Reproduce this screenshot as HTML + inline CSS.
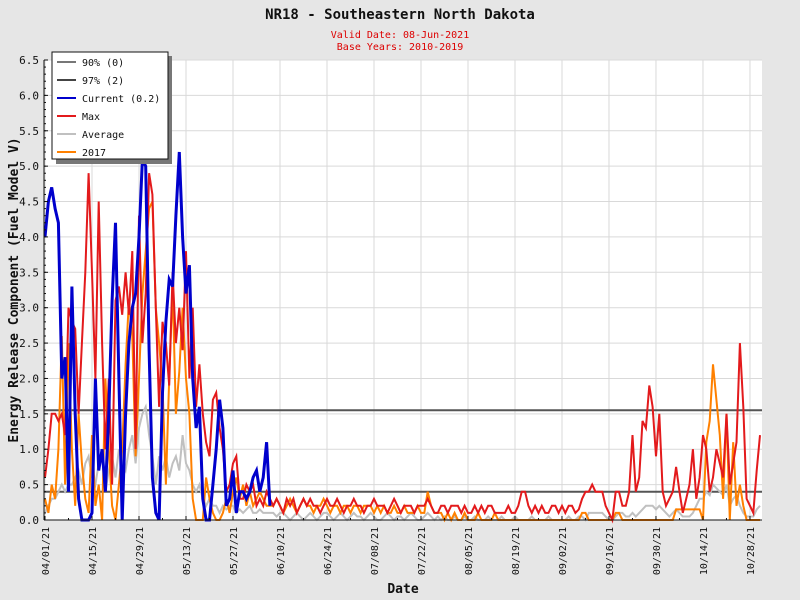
<!DOCTYPE html>
<html><head><meta charset="utf-8"><style>
body{margin:0;background:#e6e6e6;}
svg{display:block;font-family:"DejaVu Sans Mono","Liberation Mono",monospace;}
</style></head><body>
<svg id="chart" width="800" height="600" xmlns="http://www.w3.org/2000/svg">
<rect x="0" y="0" width="800" height="600" fill="#e6e6e6"/>
<text x="400" y="19" text-anchor="middle" font-size="14" font-weight="bold" fill="#111">NR18 - Southeastern North Dakota</text>
<text x="400" y="38" text-anchor="middle" font-size="10" fill="#d00">Valid Date: 08-Jun-2021</text>
<text x="400" y="50" text-anchor="middle" font-size="10" fill="#d00">Base Years: 2010-2019</text>
<rect x="44" y="60" width="718" height="460" fill="#fff"/>
<g id="grid"></g><g id="series"></g><g id="axes"></g>
<text transform="translate(18,290) rotate(-90)" text-anchor="middle" font-size="13" font-weight="bold" fill="#111">Energy Release Component (Fuel Model V)</text>
<text x="403" y="593" text-anchor="middle" font-size="13" font-weight="bold" fill="#111">Date</text>
<g id="legend"></g>
</svg>
<script>
const tickLabels=["04/01/21","04/15/21","04/29/21","05/13/21","05/27/21","06/10/21","06/24/21","07/08/21","07/22/21","08/05/21","08/19/21","09/02/21","09/16/21","09/30/21","10/14/21","10/28/21"];
const yTicks=[0,0.5,1,1.5,2,2.5,3,3.5,4,4.5,5,5.5,6,6.5];
const p90=[0.4];
const p97=[1.55];
const current=[4.0,4.5,4.7,4.4,4.2,2.0,2.3,0.4,3.3,1.5,0.3,0,0,0,0.1,2.0,0.7,1.0,0.4,1.5,3.1,4.2,2.0,0,1.5,2.5,3.0,3.2,4.0,5.1,5.0,2.4,0.6,0.1,0,1.8,2.8,3.4,3.3,4.3,5.2,4.0,3.2,3.6,2.0,1.3,1.6,0.3,0,0,0.5,1.0,1.7,1.3,0.2,0.3,0.7,0.1,0.4,0.4,0.3,0.4,0.6,0.7,0.4,0.6,1.1,0.2];
const maxv=[0.6,1.0,1.5,1.5,1.4,1.5,1.2,3.0,2.8,2.7,1.5,2.5,3.5,4.9,3.5,2.0,4.5,2.5,1.0,2.0,0.5,3.1,3.3,2.9,3.5,2.9,3.8,1.0,4.3,2.5,3.2,4.9,4.6,3.0,1.6,2.8,2.5,1.9,3.5,2.5,3.0,2.4,3.8,2.0,3.0,1.6,2.2,1.5,1.1,0.9,1.7,1.8,1.3,1.0,0.4,0.5,0.8,0.9,0.3,0.3,0.5,0.4,0.5,0.2,0.3,0.2,0.4,0.3,
0.2,0.3,0.2,0.1,0.3,0.2,0.3,0.1,0.2,0.3,0.2,0.3,0.2,0.2,0.1,0.2,0.3,0.2,0.2,0.3,0.2,0.1,0.2,0.2,0.3,0.2,0.2,0.1,0.2,0.2,0.3,0.2,0.2,0.2,0.1,0.2,0.3,0.2,0.1,0.2,0.2,0.2,0.1,0.2,0.2,0.2,0.3,0.2,0.1,0.1,0.2,0.2,0.1,0.2,0.2,0.2,0.1,0.2,0.1,0.1,0.2,0.1,0.2,0.1,0.2,0.2,0.1,0.1,0.1,0.1,0.2,0.1,0.1,0.2,0.4,0.4,0.2,0.1,0.2,0.1,0.2,0.1,0.1,0.2,0.2,0.1,0.2,0.1,0.2,0.2,0.1,
0.15,0.3,0.4,0.4,0.5,0.4,0.4,0.4,0.2,0.1,0,0.4,0.4,0.2,0.2,0.4,1.2,0.4,0.6,1.4,1.3,1.9,1.6,0.9,1.5,0.4,0.2,0.3,0.4,0.75,0.4,0.1,0.3,0.5,1.0,0.3,0.6,1.2,1.0,0.4,0.6,1.0,0.8,0.6,1.5,0.5,0.8,1.1,2.5,1.6,0.3,0.2,0.1,0.7,1.2];
const avg=[0.1,0.2,0.3,0.3,0.4,0.5,0.4,0.5,0.5,0.6,0.7,0.5,0.8,0.9,0.6,0.5,0.8,0.9,0.4,0.7,0.9,0.6,1.0,0.8,0.7,1.0,1.2,0.8,1.3,1.5,1.6,1.2,0.9,0.5,0.9,0.7,0.9,0.6,0.8,0.9,0.7,1.2,0.8,0.7,0.5,0.4,0.5,0.3,0.2,0.3,0.2,0.2,0.1,0.2,0.15,0.2,0.2,0.1,0.15,0.1,0.15,0.2,0.1,0.1,0.15,0.1,0.1,0.1,
0.1,0.05,0.1,0.1,0.05,0.0,0.05,0.1,0.05,0.0,0.05,0.1,0.05,0.0,0.05,0.1,0.1,0.05,0.0,0.05,0.1,0.05,0.0,0.05,0.1,0.05,0.05,0.0,0.05,0.1,0.05,0.0,0.0,0.05,0.1,0.05,0.0,0.05,0.05,0.0,0.05,0.1,0.05,0.0,0.0,0.05,0.1,0.05,0.0,0.05,0.0,0.05,0.0,0.0,0.05,0.0,0.0,0.05,0.0,0.0,0.05,0.0,0.0,0.0,0.05,0.0,0.0,0.0,0.05,0.0,0.0,0.0,0.05,0.0,0.0,0.0,0.0,0.05,0.0,0.0,0.0,0.0,0.05,0.0,0.0,0.0,0.0,0.0,0.05,0.0,0.0,
0.05,0.05,0.0,0.1,0.1,0.1,0.1,0.1,0.05,0.0,0.0,0.05,0.1,0.1,0.05,0.05,0.1,0.05,0.1,0.15,0.2,0.2,0.2,0.15,0.2,0.15,0.1,0.05,0.1,0.15,0.1,0.05,0.05,0.05,0.1,0.2,0.3,0.3,0.4,0.35,0.5,0.45,0.4,0.35,0.5,0.2,0.3,0.35,0.2,0.1,0.05,0.05,0.05,0.15,0.2];
const y2017=[0.3,0.1,0.5,0.3,1.0,2.6,0.5,2.5,1.0,0.2,1.5,0.8,0.3,0.1,1.2,0.2,0.5,0.0,2.0,1.0,0.2,0.0,0.5,1.0,2.2,3.1,2.6,0.9,2.0,3.2,3.8,4.4,4.5,3.0,2.5,1.9,0.5,2.0,3.3,1.5,2.1,3.0,2.0,1.5,0.3,0.0,0.0,0.0,0.6,0.3,0.1,0.0,0.0,0.1,0.3,0.1,0.4,0.6,0.3,0.5,0.2,0.4,0.2,0.3,0.4,0.3,0.2,0.2,
0.2,0.3,0.2,0.1,0.2,0.3,0.2,0.1,0.2,0.3,0.2,0.2,0.1,0.2,0.2,0.3,0.2,0.1,0.2,0.2,0.1,0.2,0.2,0.1,0.2,0.2,0.1,0.2,0.2,0.2,0.1,0.2,0.1,0.2,0.1,0.1,0.2,0.1,0.1,0.2,0.1,0.1,0.1,0.2,0.1,0.1,0.4,0.2,0.1,0.1,0.1,0.0,0.1,0.0,0.1,0.0,0.0,0.1,0.0,0.0,0.0,0.1,0.0,0.0,0.0,0.0,0.1,0.0,0.0,0.0,0,0,0,0,0,0,0,0,0,0,0,0,0,0,0,0,0,0,0,0,0,
0,0.1,0.1,0,0,0,0,0,0,0,0,0.1,0.1,0,0,0,0,0,0,0,0,0,0,0,0,0,0,0,0,0.15,0.15,0.15,0.15,0.15,0.15,0.15,0.15,0,1.1,1.4,2.2,1.7,1.2,0.3,1.5,0,1.1,0.2,0.5,0.2,0,0,0,0,0];

const NS="http://www.w3.org/2000/svg";
const X0=45,DX=3.357,Y0=520,YS=460/6.5;
const xs=d=>X0+d*DX, ys=v=>Y0-v*YS;
function mk(tag,attrs,parent){const e=document.createElementNS(NS,tag);for(const k in attrs)e.setAttribute(k,attrs[k]);parent.appendChild(e);return e;}
const grid=document.getElementById('grid'),ser=document.getElementById('series'),ax=document.getElementById('axes'),leg=document.getElementById('legend');
yTicks.forEach(v=>{
 const l=mk('line',{x1:44,x2:762,y1:ys(v),y2:ys(v),stroke:'#d9d9d9','stroke-width':1},grid);
 
 
 const t=mk('text',{x:39,y:ys(v)+4,'text-anchor':'end','font-size':11,fill:'#111'},ax);
 t.textContent=v.toFixed(1);
 
 
 mk('line',{x1:44,x2:48,y1:ys(v),y2:ys(v),stroke:'#111'},ax);
});
for(let v=0;v<=6.5;v+=0.1){mk('line',{x1:44,x2:46,y1:ys(v),y2:ys(v),stroke:'#111'},ax);}
tickLabels.forEach((s,i)=>{
 const d=i*14,x=xs(d);
 const l=mk('line',{x1:x,x2:x,y1:60,y2:520,stroke:'#d9d9d9','stroke-width':1},grid);
 
 
 mk('line',{x1:x,x2:x,y1:516,y2:520,stroke:'#111'},ax);
 const t=mk('text',{transform:`translate(${x+4},${527}) rotate(-90)`,'text-anchor':'end','font-size':10,fill:'#111'},ax);
 t.textContent=s;
 
 
});
for(let d=0;d<=213;d+=7){mk('line',{x1:xs(d),x2:xs(d),y1:518,y2:520,stroke:'#111'},ax);}
mk('line',{x1:44,x2:44,y1:60,y2:520,stroke:'#111'},ax);
mk('line',{x1:44,x2:762,y1:520,y2:520,stroke:'#111'},ax);
function hline(arr,name){const l=mk('line',{x1:44,x2:762,y1:ys(arr[0]),y2:ys(arr[0]),stroke:'#555','stroke-width':2},ser);}
hline(p90,'percentile-90-line');hline(p97,'percentile-97-line');
function poly(arr,color,w,name){
 const pts=arr.map((v,i)=>xs(i).toFixed(1)+','+ys(v).toFixed(1)).join(' ');
 const p=mk('polyline',{points:pts,fill:'none',stroke:color,'stroke-width':w,'stroke-linejoin':'miter'},ser);
 
 
}
poly(avg,'#c0c0c0',2,'average-line');
poly(y2017,'#ff8000',2,'line-2017');
poly(maxv,'#e31a1c',2,'max-line');
poly(current,'#0000cc',3,'current-line');
mk('rect',{x:56,y:56,width:116,height:108,fill:'#777'},leg);
mk('rect',{x:52,y:52,width:116,height:107,fill:'#fff',stroke:'#111'},leg);
const legItems=[["90% (0)","#777"],["97% (2)","#444"],["Current (0.2)","#0000cc"],["Max","#e31a1c"],["Average","#c0c0c0"],["2017","#ff8000"]];
legItems.forEach((it,i)=>{
 const y=62+i*18;
 const g=mk('g',{},leg);
 
 
 mk('line',{x1:57,x2:76,y1:y,y2:y,stroke:it[1],'stroke-width':2},g);
 const t=mk('text',{x:82,y:y+4,'font-size':10,fill:'#111'},g);
 t.textContent=it[0];
});
</script>
</body></html>
